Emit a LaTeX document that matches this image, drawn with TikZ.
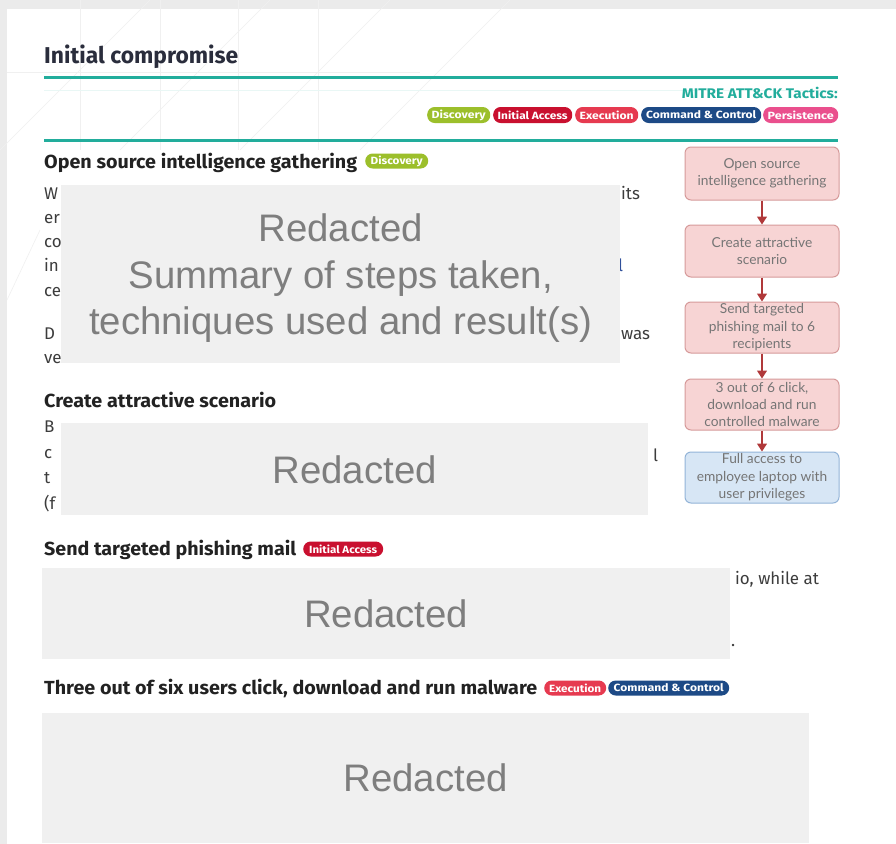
\documentclass[tikz,border=0pt]{standalone}
\usepackage{fontspec}
\usepackage{graphicx}
\setmainfont{Fira Sans}
\newfontfamily\redfont{Liberation Sans}
\newfontfamily\flowfont{Lato}
\usetikzlibrary{arrows.meta}

\definecolor{bggray}{HTML}{EBEBEB}
\definecolor{tealline}{HTML}{22AD9C}
\definecolor{titleink}{HTML}{2A2D3C}
\definecolor{headink}{HTML}{222222}
\definecolor{bodyink}{HTML}{3C3C3C}
\definecolor{linkink}{HTML}{2F4F9A}
\definecolor{tagdisc}{HTML}{9CBF2B}
\definecolor{taginit}{HTML}{C9102F}
\definecolor{tagexec}{HTML}{E63A50}
\definecolor{tagcc}{HTML}{1D4A86}
\definecolor{tagpers}{HTML}{EA4F8D}
\definecolor{redgray}{HTML}{F0F0F0}
\definecolor{redink}{HTML}{7E7E7E}
\definecolor{flowfill}{HTML}{F7D4D4}
\definecolor{flowdraw}{HTML}{D69A9A}
\definecolor{flowblue}{HTML}{D7E6F5}
\definecolor{flowbluedraw}{HTML}{93B4D8}
\definecolor{flowink}{HTML}{757575}
\definecolor{arrowred}{HTML}{B0393A}

% text fitted to a given width, keeping its natural height
\newcommand\fitto[2]{\resizebox{#1bp}{\height}{#2}}
\newcommand\headtxt[2]{\fitto{#1}{\fontsize{19}{19}\selectfont\bfseries #2}}
\newcommand\tagtxt[2]{\fitto{#1}{\fontsize{10.5}{10.5}\selectfont\bfseries #2}}

\tikzset{
  heading/.style={anchor=base west, inner sep=0pt, text=headink},
  frag/.style={anchor=base west, inner sep=0pt, text=bodyink, font=\fontsize{17}{17}\selectfont},
  tagpill/.style={fill=#1, text=white, rounded corners=7.5bp, inner sep=0pt,
    minimum height=16bp, anchor=west},
  redbox/.style={fill=redgray, inner sep=0pt, anchor=north west},
  redtext/.style={text=redink, align=center, inner sep=0pt,
    font=\redfont\fontsize{38.5}{47}\selectfont},
  flowbox/.style={draw=flowdraw, fill=flowfill, line width=1bp, rounded corners=6bp,
    minimum width=154bp, inner sep=0pt, align=center, text=flowink,
    font=\flowfont\fontsize{13.8}{17.5}\selectfont},
  flowarrow/.style={draw=arrowred, line width=1.1bp,
    -{Triangle[width=10bp,length=8bp]}},
  rule/.style={draw=tealline, line width=3bp},
  faint/.style={draw=black!6, line width=0.6bp}
}

\begin{document}
\begin{tikzpicture}[x=1bp, y=-1bp]
  \useasboundingbox (0,0) rectangle (896,844);
  % backdrop and page
  \fill[bggray] (0,0) rectangle (896,844);
  \fill[white] (7,9) rectangle (896,844);
  % faint background grid showing through the page
  \foreach \gx in {80,160,238,318} \draw[faint] (\gx,0) -- (\gx,150);
  \draw[faint] (7,72) -- (420,72);
  \foreach \d in {0,120,240,360} \draw[faint] (\d,150) -- (\d+150,0);
  \draw[faint] (7,300) -- (40,230);

  % title and rules
  \node[anchor=base west, inner sep=0pt, text=titleink] (title) at (44,63)
    {\fitto{194}{\fontsize{23}{23}\selectfont\bfseries Initial compromise}};
  \draw[rule] (44,77) coordinate (r1a) -- (838,77) coordinate (r1b);
  \draw[draw=tealline!10, line width=0.8bp] (44,90) -- (838,90);
  \node[anchor=base east, inner sep=0pt, text=tealline] (mitre) at (838,98)
    {\fitto{156}{\fontsize{14}{14}\selectfont\bfseries MITRE ATT\&CK Tactics:}};
  \node[tagpill=tagdisc, minimum width=63bp] (tdisc) at (427,115) {\tagtxt{54}{Discovery}};
  \node[tagpill=taginit, minimum width=79bp] (tinit) at (493,115) {\tagtxt{70}{Initial Access}};
  \node[tagpill=tagexec, minimum width=63bp] (texec) at (575,115) {\tagtxt{54}{Execution}};
  \node[tagpill=tagcc, minimum width=120bp] (tcc) at (641,115) {\tagtxt{110}{Command \& Control}};
  \node[tagpill=tagpers, minimum width=75bp] (tpers) at (763,115) {\tagtxt{66}{Persistence}};
  \draw[rule] (44,140) coordinate (r2a) -- (838,140) coordinate (r2b);

  % section 1
  \node[heading] (h1) at (44,168) {\headtxt{313}{Open source intelligence gathering}};
  \node[tagpill=tagdisc, minimum width=63bp, minimum height=15bp] (h1tag) at (365,161) {\tagtxt{52}{Discovery}};
  \node[frag] (f1a) at (44,199) {W};
  \node[frag] (f1b) at (44,223) {er};
  \node[frag] (f1c) at (44,247) {co};
  \node[frag] (f1d) at (44,271) {in};
  \node[frag] (f1e) at (44,296) {ce};
  \node[frag] (f1f) at (44,339) {D};
  \node[frag] (f1g) at (44,363) {ve};
  \node[frag] (f1h) at (621,199) {its};
  \node[frag, text=linkink] (f1i) at (618,271) {l};
  \node[frag] (f1j) at (621,339) {was};
  \node[redbox, minimum width=559bp, minimum height=178bp] (red1) at (61,185) {};
  \node[redtext, yshift=-4bp] (red1t) at (red1.center)
    {Redacted\\Summary of steps taken,\\techniques used and result(s)};

  % section 2
  \node[heading] (h2) at (44,407) {\headtxt{232}{Create attractive scenario}};
  \node[frag] (f2a) at (44,432) {B};
  \node[frag] (f2b) at (44,458) {c};
  \node[frag] (f2c) at (44,483) {t};
  \node[frag] (f2d) at (44,509) {(f};
  \node[frag] (f2e) at (653,461) {l};
  \node[redbox, minimum width=587bp, minimum height=92bp] (red2) at (61,423) {};
  \node[redtext, yshift=-1bp] (red2t) at (red2.center) {Redacted};

  % section 3
  \node[heading] (h3) at (44,555) {\headtxt{252}{Send targeted phishing mail}};
  \node[tagpill=taginit, minimum width=80bp, minimum height=15bp] (h3tag) at (303,549) {\tagtxt{68}{Initial Access}};
  \node[frag] (f3a) at (735,584) {io, while at};
  \node[frag] (f3b) at (731,646) {.};
  \node[redbox, minimum width=688bp, minimum height=91bp] (red3) at (42,568) {};
  \node[redtext] (red3t) at (red3.center) {Redacted};

  % section 4
  \node[heading] (h4) at (44,694) {\headtxt{493}{Three out of six users click, download and run malware}};
  \node[tagpill=tagexec, minimum width=62bp, minimum height=15bp] (h4tag1) at (544,688) {\tagtxt{52}{Execution}};
  \node[tagpill=tagcc, minimum width=121bp, minimum height=15bp] (h4tag2) at (608,688) {\tagtxt{110}{Command \& Control}};
  \node[redbox, minimum width=767bp, minimum height=130bp] (red4) at (42,713) {};
  \node[redtext] (red4t) at (red4.center) {Redacted};

  % attack flow
  \node[flowbox, minimum height=53bp] (s1) at (762,173.5) {Open source\\intelligence gathering};
  \node[flowbox, minimum height=52bp] (s2) at (762,251) {Create attractive\\scenario};
  \node[flowbox, minimum height=51bp] (s3) at (762,327.5) {Send targeted\\phishing mail to 6\\recipients};
  \node[flowbox, minimum height=51bp] (s4) at (762,404.5) {3 out of 6 click,\\download and run\\controlled malware};
  \node[flowbox, draw=flowbluedraw, fill=flowblue, minimum height=51bp] (s5) at (762,477.5)
    {Full access to\\employee laptop with\\user privileges};
  \draw[flowarrow] (s1) -- (s2);
  \draw[flowarrow] (s2) -- (s3);
  \draw[flowarrow] (s3) -- (s4);
  \draw[flowarrow] (s4.south) -- (s5.north);
\end{tikzpicture}
\end{document}
